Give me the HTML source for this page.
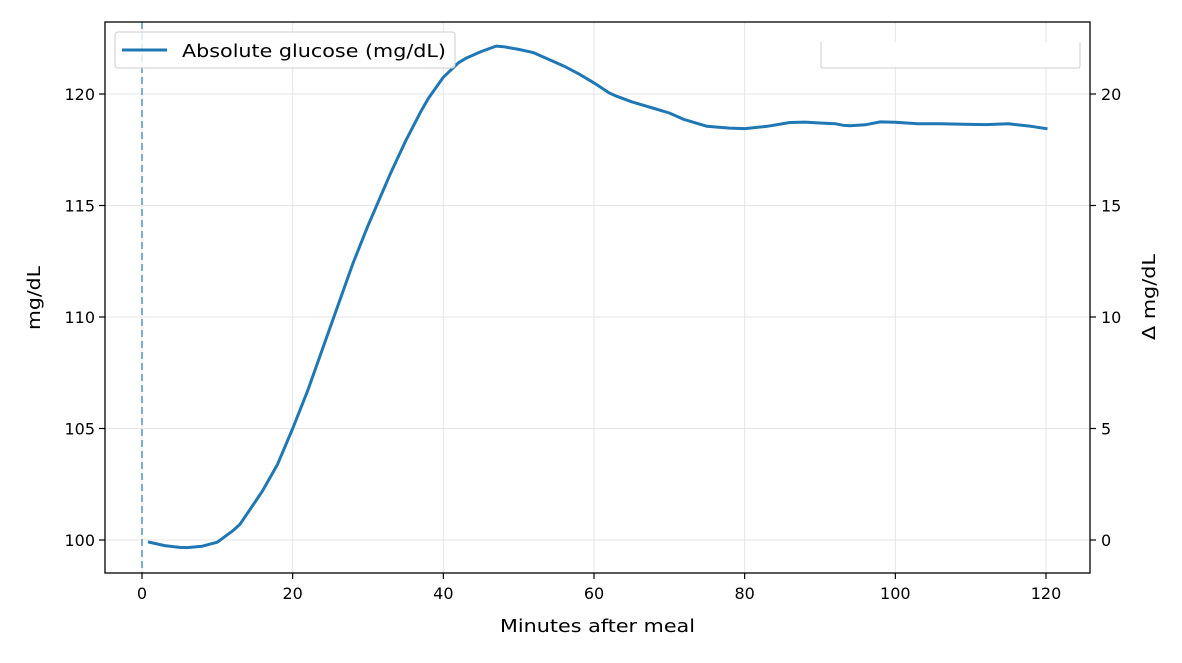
<!DOCTYPE html>
<html><head><meta charset="utf-8"><style>
body{margin:0;background:#fff;}
text{font-family:"DejaVu Sans","Liberation Sans",sans-serif;fill:#000;}
</style></head><body>
<svg id="chart" width="1182" height="658" xmlns="http://www.w3.org/2000/svg">
<rect width="1182" height="658" fill="#fff"/>
<g id="grid"></g>
<g id="marks"></g>
<g id="axes"></g>
</svg>
<script>
const minutes=[1,3,5,6,8,10,12,13,15,16,18,20,22,25,28,30,33,35,37,38,40,42,43,45,47,48,50,52,53,55,56,58,60,62,63,65,68,70,72,75,78,80,83,86,88,90,92,93,94,96,98,100,103,106,109,112,115,118,120];
const glucose=[99.9,99.75,99.67,99.66,99.72,99.9,100.4,100.7,101.7,102.2,103.4,105.0,106.7,109.55,112.4,114.1,116.45,117.9,119.2,119.8,120.75,121.4,121.6,121.9,122.15,122.12,122.0,121.85,121.7,121.4,121.25,120.9,120.5,120.05,119.9,119.65,119.35,119.15,118.85,118.55,118.47,118.45,118.55,118.72,118.74,118.7,118.67,118.6,118.58,118.62,118.75,118.73,118.67,118.67,118.64,118.63,118.67,118.55,118.45];
const xTicks=[0,20,40,60,80,100,120];
const yTicks=[100,105,110,115,120];
const y2Ticks=[0,5,10,15,20];
const L=105,R=1090,T=22,B=573;
const X=v=>142+(v-0)*(1046-142)/120;
const Y=v=>540-(v-100)*(540-94)/20;
const Y2=d=>Y(100+d);
const ns='http://www.w3.org/2000/svg';
function mk(tag,attrs,parent){const e=document.createElementNS(ns,tag);for(const k in attrs)e.setAttribute(k,attrs[k]);parent.appendChild(e);return e;}
const grid=document.getElementById('grid'),marks=document.getElementById('marks'),axes=document.getElementById('axes');
xTicks.forEach(t=>{const l=mk('line',{x1:X(t),x2:X(t),y1:T,y2:B,stroke:'#e6e6e6','stroke-width':1},grid);

});
yTicks.forEach(t=>{const l=mk('line',{x1:L,x2:R,y1:Y(t),y2:Y(t),stroke:'#e6e6e6','stroke-width':1},grid);

});
const vl=mk('line',{x1:X(0),x2:X(0),y1:T,y2:B,stroke:'#1f77b4','stroke-opacity':0.55,'stroke-width':2,'stroke-dasharray':'7,4'},marks);


const pts=minutes.map((m,i)=>X(m).toFixed(1)+','+Y(glucose[i]).toFixed(1)).join(' ');
const pl=mk('polyline',{points:pts,fill:'none',stroke:'#1f77b4','stroke-width':3,'stroke-linejoin':'round','stroke-linecap':'square'},marks);


const fr=mk('rect',{x:L,y:T,width:R-L,height:B-T,fill:'none',stroke:'#000','stroke-width':1.3},axes);


xTicks.forEach(t=>{mk('line',{x1:X(t),x2:X(t),y1:B,y2:B+6,stroke:'#000','stroke-width':1.2},axes);
const tx=mk('text',{x:X(t),y:B+26,'text-anchor':'middle','font-size':16},axes);tx.textContent=t;

});
yTicks.forEach(t=>{mk('line',{x1:L-6,x2:L,y1:Y(t),y2:Y(t),stroke:'#000','stroke-width':1.2},axes);
const tx=mk('text',{x:L-10,y:Y(t)+6,'text-anchor':'end','font-size':16},axes);tx.textContent=t;

});
y2Ticks.forEach(t=>{mk('line',{x1:R,x2:R+6,y1:Y2(t),y2:Y2(t),stroke:'#000','stroke-width':1.2},axes);
const tx=mk('text',{x:R+11,y:Y2(t)+6,'text-anchor':'start','font-size':16},axes);tx.textContent=t;

});
</script>
<svg style="position:absolute;left:0;top:0" width="1182" height="658" xmlns="http://www.w3.org/2000/svg">
<text x="500" y="632" font-size="18" textLength="195" lengthAdjust="spacingAndGlyphs">Minutes after meal</text>
<text transform="translate(40,330) rotate(-90)" font-size="18" textLength="64" lengthAdjust="spacingAndGlyphs">mg/dL</text>
<text transform="translate(1155,340) rotate(-90)" font-size="18" textLength="86" lengthAdjust="spacingAndGlyphs">Δ mg/dL</text>
<g>
<rect x="115" y="32" width="340" height="36" rx="3" fill="#fff" fill-opacity="0.8" stroke="#ccc"/>
<line x1="122" y1="50" x2="167" y2="50" stroke="#1f77b4" stroke-width="3"/>
<text x="182" y="57" font-size="18" textLength="264" lengthAdjust="spacingAndGlyphs">Absolute glucose (mg/dL)</text>
</g>
<g>
<path d="M821,42 V66 Q821,68 823,68 H1078 Q1080,68 1080,66 V42" fill="#fff" stroke="#ccc"/>
</g>
</svg>
</body></html>
